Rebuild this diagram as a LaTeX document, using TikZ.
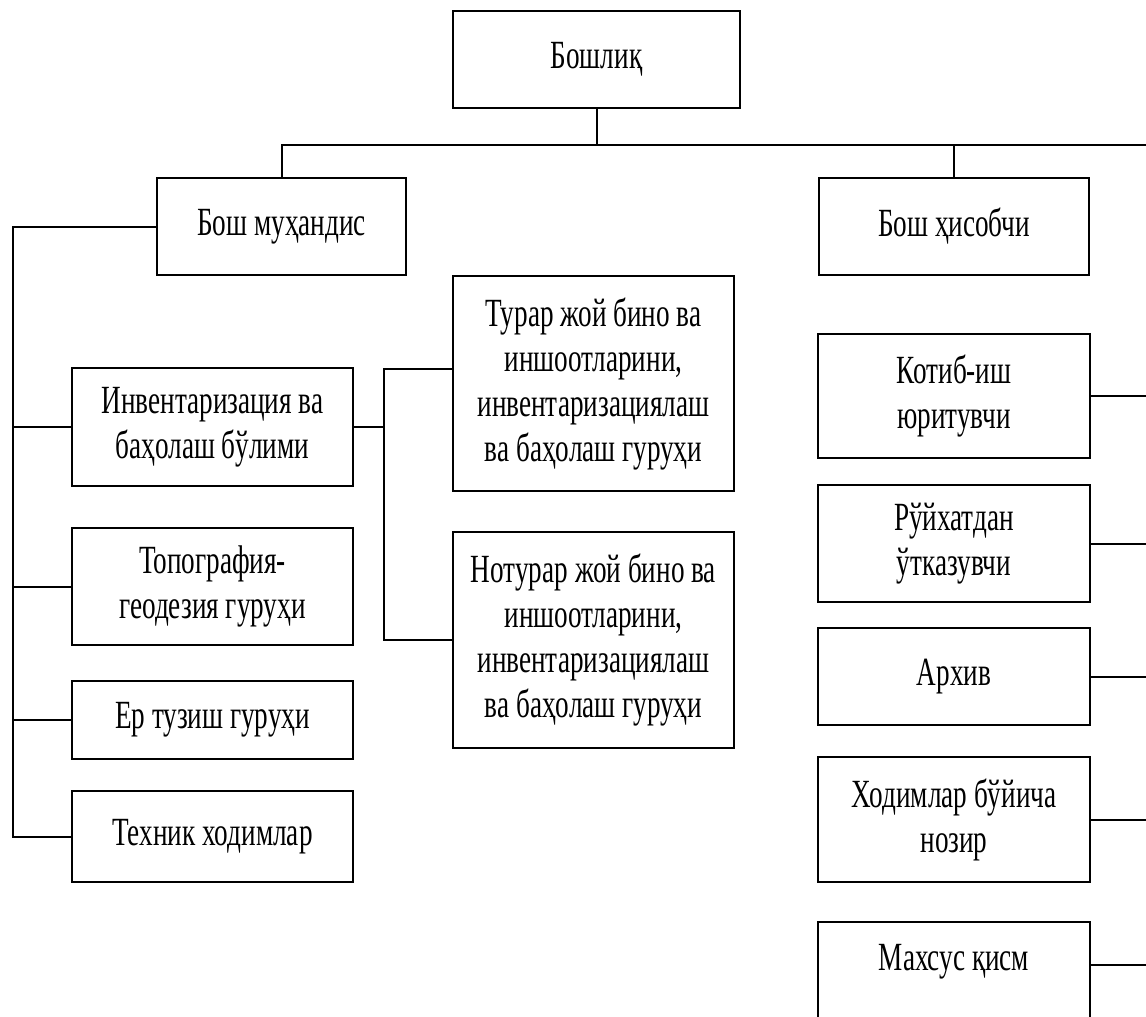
\documentclass[tikz,border=0pt]{standalone}
\usepackage{fontspec}
\setmainfont{Liberation Serif}[FakeStretch=0.68]
\usepackage{tikz}

\tikzset{
    unit/.style={draw, line width=2pt, align=center, inner sep=0pt,
        font=\fontsize{40}{45}\selectfont},
    link/.style={line width=2pt}
}

\begin{document}
\begin{tikzpicture}[x=1pt, y=-1pt]
    \useasboundingbox (0,0) rectangle (1146,1017);
    \clip (0,0) rectangle (1146,1017);

    % Top of the chart
    \node[unit, minimum width=287, minimum height=97] (boss) at (596.5,59) {Бошлиқ};
    \node[unit, minimum width=249, minimum height=97] (chiefeng) at (281.5,226.5) {Бош муҳандис};
    \node[unit, minimum width=270, minimum height=97] (chiefacc) at (954,226.5) {Бош ҳисобчи};

    % Left branch
    \node[unit, minimum width=281, minimum height=118] (invent) at (212.5,427) {Инвентаризация ва\\баҳолаш бўлими};
    \node[unit, minimum width=281, minimum height=117] (topo) at (212.5,586.5) {Топография-\\геодезия гуруҳи};
    \node[unit, minimum width=281, minimum height=78] (land) at (212.5,720) {Ер тузиш гуруҳи};
    \node[unit, minimum width=281, minimum height=91] (tech) at (212.5,836.5) {Техник ходимлар};

    \node[unit, minimum width=281, minimum height=215] (resid) at (593.5,383.5) {Турар жой бино ва\\иншоотларини,\\инвентаризациялаш\\ва баҳолаш гуруҳи};
    \node[unit, minimum width=281, minimum height=216] (nonres) at (593.5,640) {Нотурар жой бино ва\\иншоотларини,\\инвентаризациялаш\\ва баҳолаш гуруҳи};

    % Right branch
    \node[unit, minimum width=272, minimum height=124] (secr) at (954,396) {Котиб-иш\\юритувчи};
    \node[unit, minimum width=272, minimum height=117] (regis) at (954,543.5) {Рўйхатдан\\ўтказувчи};
    \node[unit, minimum width=272, minimum height=97] (archive) at (954,676.5) {Архив};
    \node[unit, minimum width=272, minimum height=125] (staff) at (954,819.5) {Ходимлар бўйича\\нозир};
    \node[unit, minimum width=272, minimum height=115, anchor=north] (special) at (954,921) {Махсус қисм\\~};

    \coordinate (bus) at (0,145);
    \coordinate (lspine) at (13,0);
    \coordinate (mspine) at (384,0);
    \coordinate (redge) at (1150,145);

    % Connectors
    \draw[link] (boss.south) -- (boss.south |- bus);
    \draw[link] (chiefeng.north) -- (chiefeng.north |- bus) -- (redge);
    \draw[link] (chiefacc.north) -- (chiefacc.north |- bus);

    \draw[link] (chiefeng.west) -- (chiefeng.west -| lspine) -- (tech.west -| lspine) -- (tech.west);
    \foreach \n in {invent, topo, land}
        \draw[link] (\n.west -| lspine) -- (\n.west);

    \draw[link] (invent.east) -- (invent.east -| mspine);
    \draw[link] ([yshift=15pt]resid.west) -| (mspine |- nonres.west) -- (nonres.west);

    \foreach \n in {secr, regis, archive, staff}
        \draw[link] (\n.east) -- (\n.east -| redge);
    \draw[link] ([yshift=15pt]special.east) -- ([yshift=15pt]special.east -| redge);

\end{tikzpicture}
\end{document}
